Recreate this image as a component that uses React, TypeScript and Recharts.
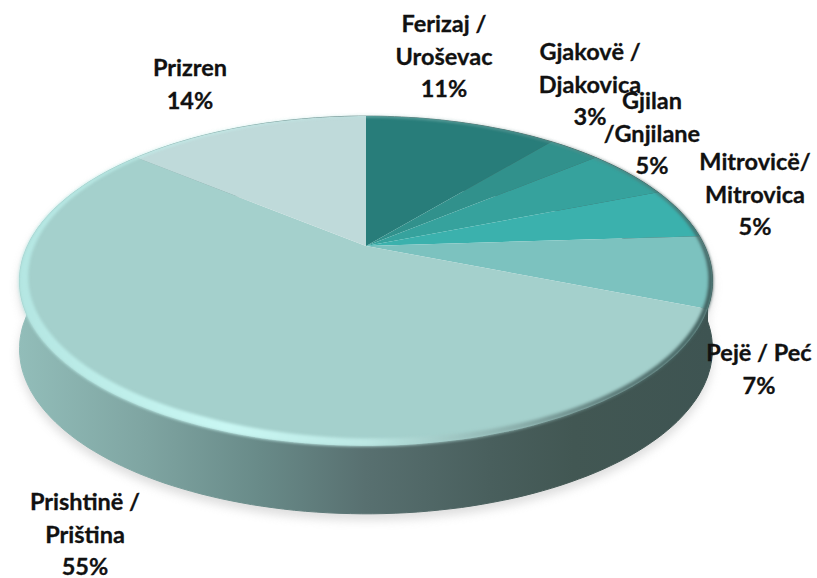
import { Pie, PieChart } from "recharts"

const categories = ["Ferizaj / Uroševac", "Gjakovë / Djakovica", "Gjilan /Gnjilane", "Mitrovicë/ Mitrovica", "Pejë / Peć", "Prishtinë / Priština", "Prizren"]
const shares = [11, 3, 5, 5, 7, 55, 14]
const labelLines = [
  ["Ferizaj /", "Uroševac"],
  ["Gjakovë /", "Djakovica"],
  ["Gjilan", "/Gnjilane"],
  ["Mitrovicë/", "Mitrovica"],
  ["Pejë / Peć"],
  ["Prishtinë /", "Priština"],
  ["Prizren"],
]
const sliceColors = ["#287d7a", "#31918c", "#36a29d", "#3bb1ad", "#7cc2bf", "#a4d0cc", "#bfdada"]

// top line baseline and centre of every label
const labelAnchors = [
  [444, 32],
  [590, 60],
  [652, 109],
  [755, 170],
  [759, 361],
  [85, 510],
  [190, 76],
]

const table = categories.map((name, i) => ({ name, share: shares[i] }))

// perspective of the tilted disc
const TILT = 0.212
const SQUASH = 0.465
const DEPTH = 68
const LINE = 32.5

const project = (cx: number, cy: number, radius: number, deg: number, k = 1) => {
  const a = (deg * Math.PI) / 180
  const u = k * Math.cos(a)
  const v = k * Math.sin(a)
  const w = 1 + TILT * v
  return [cx + (radius * u) / w, cy - (radius * SQUASH * v) / w]
}

const arcPoints = (p: any, k = 1, dy = 0) => {
  const n = Math.max(2, Math.ceil(Math.abs(p.endAngle - p.startAngle) / 1.5))
  const pts = []
  for (let i = 0; i <= n; i++) {
    const deg = p.startAngle + ((p.endAngle - p.startAngle) * i) / n
    const [x, y] = project(p.cx, p.cy, p.outerRadius, deg, k)
    pts.push([x, y + dy])
  }
  return pts
}

const toPath = (pts: number[][]) => "M" + pts.map((q) => q[0].toFixed(1) + " " + q[1].toFixed(1)).join("L") + "Z"

function FaceSlice(p: any) {
  const d = toPath([[p.cx, p.cy], ...arcPoints(p)])
  return <path d={d} fill={sliceColors[p.index ?? shares.indexOf(p.share)]} />
}

function WallSlice(p: any) {
  const top = arcPoints(p)
  const bottom = arcPoints(p, 1, DEPTH).reverse()
  return <path d={toPath([...top, ...bottom])} fill="url(#wallFill)" stroke="url(#wallFill)" strokeWidth={1} />
}

function ShadowSlice(p: any) {
  const top = arcPoints(p, 1, 6)
  const bottom = arcPoints(p, 1, DEPTH + 6).reverse()
  return <path d={toPath([...top, ...bottom])} fill="#b5b5b5" stroke="#b5b5b5" />
}

function RimSlice(p: any) {
  const n = Math.max(2, Math.ceil(Math.abs(p.endAngle - p.startAngle) / 1.5))
  const outer = []
  const inner = []
  for (let i = 0; i <= n; i++) {
    const deg = p.startAngle + ((p.endAngle - p.startAngle) * i) / n
    const rad = (deg * Math.PI) / 180
    const front = (1 - Math.sin(rad)) / 2
    const left = 0.35 + 0.65 * Math.min(1, Math.max(0, 0.6 - Math.cos(rad)))
    outer.push(project(p.cx, p.cy, p.outerRadius, deg, 1.001))
    inner.push(project(p.cx, p.cy, p.outerRadius, deg, 0.997 - 0.034 * front * left))
  }
  return <path d={toPath([...outer, ...inner.reverse()])} fill="url(#rimFill)" stroke="url(#rimFill)" strokeWidth={0.5} />
}

function SliceLabel(p: any) {
  const i = p.index
  const [x, y] = labelAnchors[i]
  const lines = [...labelLines[i], shares[i] + "%"]
  return (
    <text x={x} y={y} textAnchor="middle" fontFamily="Lato" fontWeight={700} fontSize={23.5} fill="#111" stroke="#111" strokeWidth={0.3}>
      {lines.map((line, j) => (
        <tspan key={j} x={x} y={y + j * LINE}>
          {line}
        </tspan>
      ))}
    </text>
  )
}

const pieBase = {
  data: table,
  dataKey: "share",
  nameKey: "name",
  cx: 366,
  cy: 246,
  outerRadius: 338.6,
  startAngle: 90,
  endAngle: -270,
  stroke: "none",
  labelLine: false,
  isAnimationActive: false,
}

export default function App() {
  return (
    <div style={{ position: "absolute", left: 0, top: 0, width: 817, height: 578, background: "#fff" }}>
      <style>{`.disc-shadow{filter:blur(5px);opacity:.45}.disc-rim{filter:blur(1.8px)}`}</style>
      <PieChart width={817} height={578} margin={{ top: 0, right: 0, bottom: 0, left: 0 }}>
        <defs>
          <linearGradient id="wallFill" gradientUnits="userSpaceOnUse" x1={19} y1={0} x2={712} y2={0}>
            <stop offset="0" stopColor="#92bdb9" />
            <stop offset="0.18" stopColor="#7fa5a2" />
            <stop offset="0.35" stopColor="#688a88" />
            <stop offset="0.5" stopColor="#587070" />
            <stop offset="0.68" stopColor="#495f5d" />
            <stop offset="0.8" stopColor="#425753" />
            <stop offset="1" stopColor="#3e5452" />
          </linearGradient>
          <linearGradient id="rimFill" gradientUnits="userSpaceOnUse" x1={19} y1={0} x2={712} y2={0}>
            <stop offset="0" stopColor="#b4e6e2" />
            <stop offset="0.3" stopColor="#c9f7f3" />
            <stop offset="0.5" stopColor="#bce8e4" />
            <stop offset="0.72" stopColor="#8aaeab" />
            <stop offset="0.86" stopColor="#5a7876" />
            <stop offset="1" stopColor="#40605e" />
          </linearGradient>
        </defs>
        <Pie {...pieBase} className="disc-shadow" shape={ShadowSlice} />
        <Pie {...pieBase} shape={WallSlice} />
        <Pie {...pieBase} shape={FaceSlice} />
        <Pie {...pieBase} className="disc-rim" shape={RimSlice} label={SliceLabel} />
      </PieChart>
    </div>
  )
}
